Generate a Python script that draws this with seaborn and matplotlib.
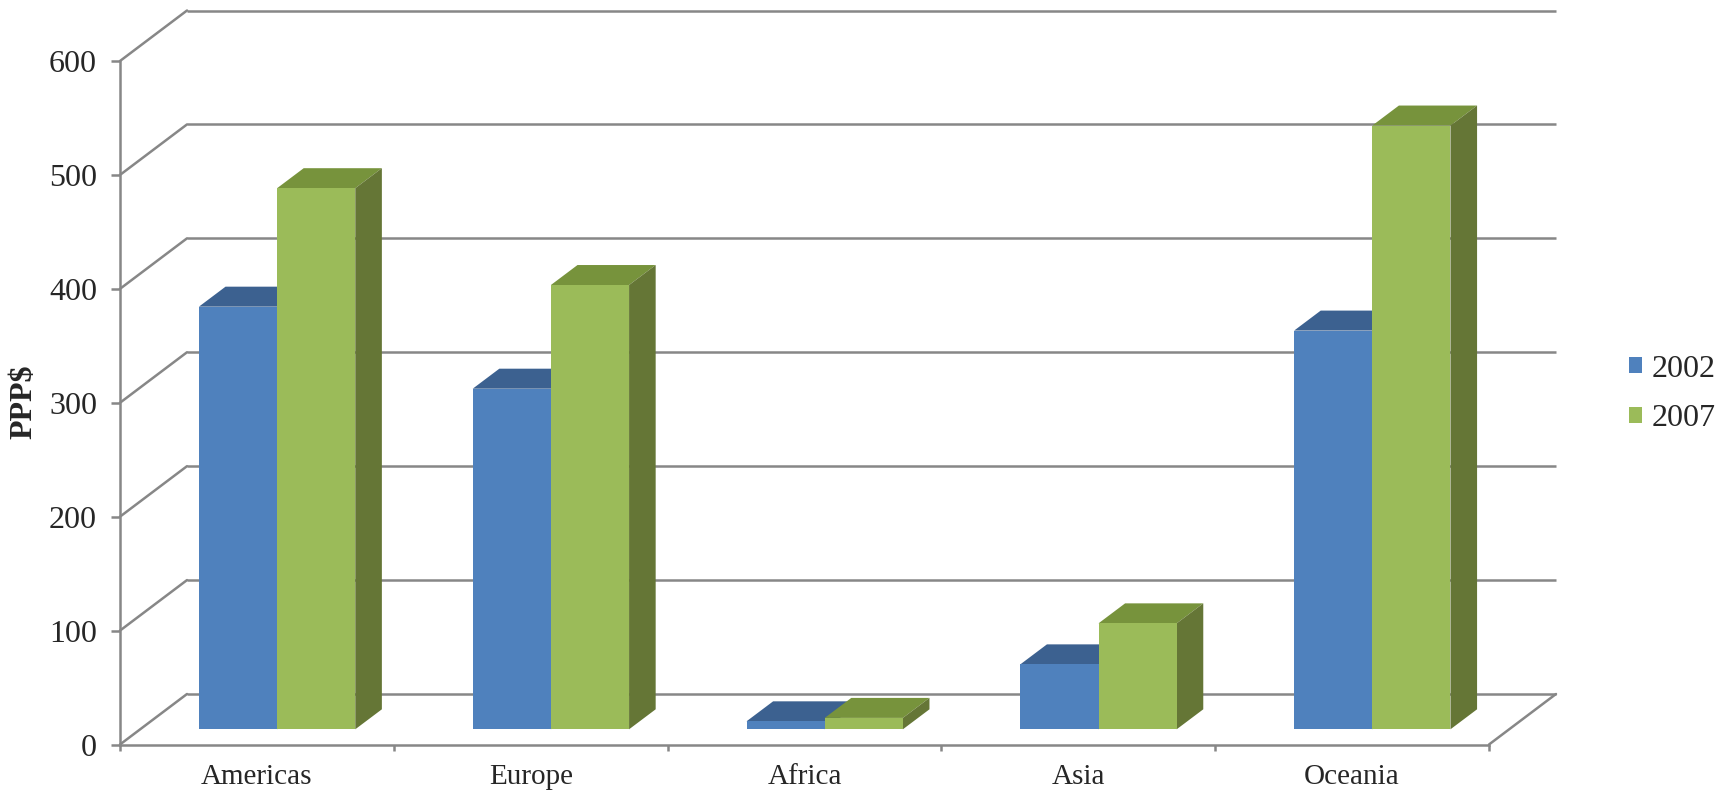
import numpy as np
import pandas as pd
import seaborn as sns
import matplotlib
matplotlib.use("Agg")
import matplotlib.pyplot as plt
from matplotlib.patches import Polygon
from matplotlib.transforms import ScaledTranslation

# ---- data -------------------------------------------------------------
regions = ["Americas", "Europe", "Africa", "Asia", "Oceania"]
years = ["2002", "2007"]
ppp_2002 = [371, 299, 7, 57, 350]
ppp_2007 = [475, 390, 10, 93, 530]
value_ticks = [0, 100, 200, 300, 400, 500, 600]

# ---- style ------------------------------------------------------------
front_colors = {"2002": "#4F81BD", "2007": "#9BBB59"}
top_colors = {"2002": "#3C6190", "2007": "#77933C"}
side_colors = {"2002": "#3A5C86", "2007": "#657636"}
grid_color = "#878787"
line_w = 1.8

# pseudo-3D projection offsets, in pixels (right, up)
BAR_SHIFT = (20.2, 15.2)   # front face of the bars relative to the front axis plane
BAR_DEPTH = (26.6, 20.0)   # depth of each bar
WALL_SHIFT = (67.0, 50.5)  # back wall relative to the front axis plane

sns.set_theme(style="white")
plt.rcParams["font.family"] = ["Liberation Serif", "DejaVu Serif"]

df = pd.DataFrame({
    "region": regions * 2,
    "year": [years[0]] * len(regions) + [years[1]] * len(regions),
    "ppp": ppp_2002 + ppp_2007,
})

DPI = 100
W, H = 1727, 793
fig = plt.figure(figsize=(W / DPI, H / DPI), dpi=DPI)
ax = fig.add_axes([120 / W, (H - 744.5) / H, 1369 / W, 683.5 / H])

sns.barplot(data=df, x="region", y="ppp", hue="year", order=regions,
            hue_order=years, palette=front_colors, width=0.571, gap=0,
            saturation=1, linewidth=0, ax=ax, zorder=3)
ax.set_xlim(-0.5, len(regions) - 0.5)
ax.set_ylim(value_ticks[0], value_ticks[-1])

# pixel -> data unit conversion
bb = ax.get_window_extent()
ux = (len(regions)) / bb.width
uy = (value_ticks[-1] - value_ticks[0]) / bb.height
dx, dy = BAR_DEPTH[0] * ux, BAR_DEPTH[1] * uy
wx, wy = WALL_SHIFT[0] * ux, WALL_SHIFT[1] * uy

bar_trans = ax.transData + ScaledTranslation(BAR_SHIFT[0] / DPI, BAR_SHIFT[1] / DPI,
                                             fig.dpi_scale_trans)

# front faces shifted into the bar plane, plus top and side faces
for container, year in zip(ax.containers, years):
    for p in container.patches:
        p.set_transform(bar_trans)
        p.set_clip_on(False)
        x0 = p.get_x()
        x1 = x0 + p.get_width()
        h = p.get_height()
        top = Polygon([(x0, h), (x1, h), (x1 + dx, h + dy), (x0 + dx, h + dy)],
                      closed=True, facecolor=top_colors[year], edgecolor="none",
                      transform=bar_trans, zorder=2, clip_on=False)
        side = Polygon([(x1, 0), (x1 + dx, dy), (x1 + dx, h + dy), (x1, h)],
                       closed=True, facecolor=side_colors[year], edgecolor="none",
                       transform=bar_trans, zorder=2, clip_on=False)
        ax.add_patch(top)
        ax.add_patch(side)

# back wall gridlines and floor/side edges
x_left, x_right = -0.5, len(regions) - 0.5
for v in value_ticks:
    ax.plot([x_left + wx, x_right + wx], [v + wy, v + wy], color=grid_color,
            lw=line_w, zorder=1, clip_on=False, solid_capstyle="butt")
    ax.plot([x_left, x_left + wx], [v, v + wy], color=grid_color,
            lw=line_w, zorder=1, clip_on=False)
ax.plot([x_right, x_right + wx], [0, wy], color=grid_color, lw=line_w,
        zorder=1, clip_on=False)

# front axes
for s in ["top", "right"]:
    ax.spines[s].set_visible(False)
for s in ["left", "bottom"]:
    ax.spines[s].set_color(grid_color)
    ax.spines[s].set_linewidth(line_w)
    ax.spines[s].set_zorder(1.5)

ax.set_yticks(value_ticks)
ax.set_yticklabels([str(v) for v in value_ticks])
ax.tick_params(axis="y", which="major", direction="out", length=6.5, width=line_w,
               color=grid_color, pad=10, labelsize=23, left=True)
ax.set_xticks(np.arange(x_left, x_right + 0.01, 1.0), minor=True)
ax.tick_params(axis="x", which="minor", direction="out", length=4.5, width=line_w,
               color=grid_color, bottom=True)
ax.tick_params(axis="x", which="major", length=0, pad=14, labelsize=21)
ax.set_xlabel("")
ax.set_ylabel("PPP$", fontsize=23, fontweight="bold")
ax.yaxis.set_label_coords((38 - 120) / 1369, 0.501)
ax.grid(False)

sns.move_legend(ax, "center left", bbox_to_anchor=(1629 / W, 1 - 394 / H),
                bbox_transform=fig.transFigure, frameon=False, title=None,
                fontsize=23, handlelength=0.42, handleheight=0.42,
                handletextpad=0.3, labelspacing=0.65, borderpad=0,
                borderaxespad=0)

fig.savefig("out.png", dpi=DPI)
